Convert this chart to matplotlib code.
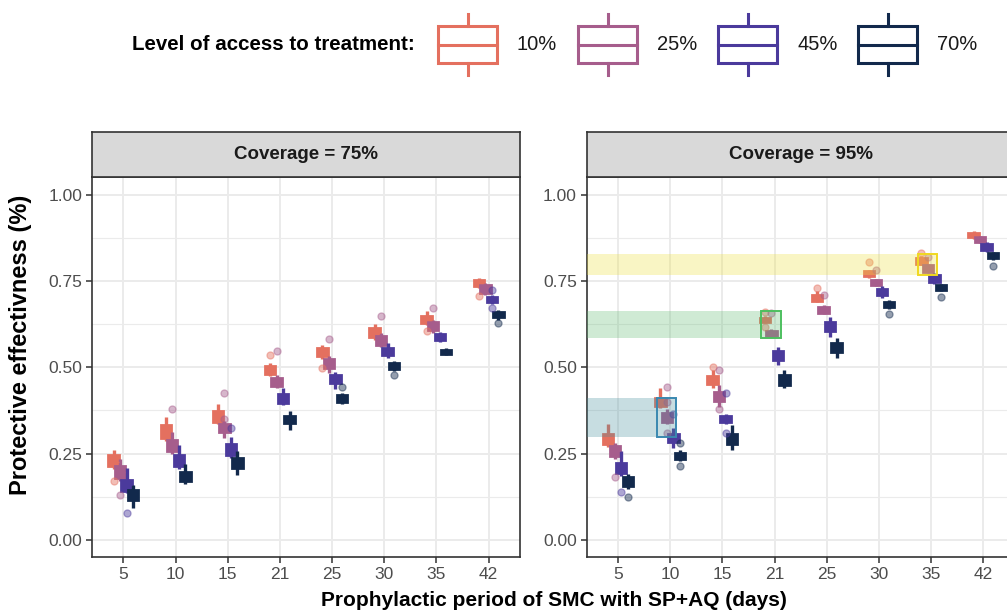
import matplotlib.pyplot as plt
import numpy as np
from matplotlib.patches import Rectangle

plt.rcParams["font.family"] = ["Liberation Sans", "DejaVu Sans"]

PERIODS = ["5", "10", "15", "21", "25", "30", "35", "42"]
LEVELS = ["10%", "25%", "45%", "70%"]
COLORS = ["#E4705F", "#A65D8C", "#4B3A9C", "#12294C"]
PANELS = ["Coverage = 75%", "Coverage = 95%"]

# ── coverage 75% : box stats per access level, one value per period ─────────
Q1_75 = {"10%": [.215, .296, .343, .482, .532, .588, .629, .735],
         "25%": [.180, .258, .312, .446, .498, .565, .607, .715],
         "45%": [.142, .213, .246, .398, .456, .535, .578, .689],
         "70%": [.116, .171, .208, .340, .400, .496, .539, .645]}
MED_75 = {"10%": [.225, .322, .350, .490, .545, .600, .638, .744],
          "25%": [.197, .275, .325, .458, .510, .578, .618, .726],
          "45%": [.158, .230, .262, .410, .466, .545, .587, .697],
          "70%": [.130, .185, .222, .350, .410, .505, .545, .653]}
Q3_75 = {"10%": [.245, .333, .373, .505, .555, .613, .649, .753],
         "25%": [.214, .291, .335, .469, .525, .591, .630, .738],
         "45%": [.173, .245, .277, .423, .479, .555, .596, .704],
         "70%": [.144, .198, .238, .358, .419, .512, .551, .661]}
LO_75 = {"10%": [.205, .288, .335, .475, .525, .580, .622, .730],
         "25%": [.172, .250, .295, .440, .484, .558, .600, .710],
         "45%": [.135, .205, .238, .392, .437, .528, .572, .684],
         "70%": [.093, .163, .189, .319, .393, .490, .535, .638]}
HI_75 = {"10%": [.262, .357, .393, .512, .566, .625, .662, .758],
         "25%": [.235, .313, .345, .478, .532, .598, .638, .745],
         "45%": [.209, .276, .297, .439, .486, .569, .603, .710],
         "70%": [.158, .221, .257, .374, .425, .518, .555, .667]}
# (period index, level index, value)
OUT_75 = [(0, 0, .172), (6, 0, .605), (7, 0, .706), (3, 0, .535), (4, 0, .497),
          (0, 1, .129), (1, 1, .380), (2, 1, .427), (2, 1, .350), (3, 1, .548),
          (4, 1, .582), (5, 1, .648), (6, 1, .673),
          (0, 2, .079), (2, 2, .324), (7, 2, .725), (7, 2, .673),
          (4, 3, .444), (5, 3, .478), (7, 3, .627)]

# ── coverage 95% ─────────────────────────────────────────────────────────────
Q1_95 = {"10%": [.277, .389, .453, .631, .693, .763, .799, .876],
         "25%": [.242, .341, .402, .592, .658, .738, .777, .863],
         "45%": [.193, .283, .341, .520, .604, .708, .748, .840],
         "70%": [.155, .235, .277, .450, .544, .674, .725, .815]}
MED_95 = {"10%": [.290, .400, .464, .638, .700, .772, .808, .883],
          "25%": [.257, .355, .415, .600, .667, .745, .787, .871],
          "45%": [.208, .295, .350, .535, .617, .718, .758, .850],
          "70%": [.168, .245, .290, .465, .557, .682, .732, .823]}
Q3_95 = {"10%": [.307, .411, .474, .644, .709, .779, .817, .890],
         "25%": [.272, .368, .428, .606, .676, .753, .796, .877],
         "45%": [.224, .306, .358, .548, .630, .728, .767, .858],
         "70%": [.183, .253, .306, .479, .570, .690, .738, .831]}
LO_95 = {"10%": [.270, .382, .440, .627, .689, .759, .795, .872],
         "25%": [.235, .335, .385, .588, .654, .734, .773, .859],
         "45%": [.185, .266, .335, .508, .588, .702, .742, .835],
         "70%": [.148, .229, .262, .440, .526, .668, .720, .810]}
HI_95 = {"10%": [.337, .439, .492, .648, .720, .783, .821, .894],
         "25%": [.280, .378, .449, .610, .680, .757, .800, .881],
         "45%": [.257, .324, .365, .560, .646, .734, .773, .864],
         "70%": [.192, .260, .334, .492, .584, .696, .742, .835]}
OUT_95 = [(2, 0, .502), (3, 0, .660), (3, 0, .617), (4, 0, .731), (5, 0, .805),
          (6, 0, .832),
          (0, 1, .183), (1, 1, .444), (1, 1, .401), (1, 1, .311), (2, 1, .492),
          (2, 1, .379), (3, 1, .656), (4, 1, .710), (5, 1, .783), (6, 1, .819),
          (0, 2, .138), (1, 2, .364), (2, 2, .427), (2, 2, .310),
          (0, 3, .124), (1, 3, .280), (1, 3, .215), (5, 3, .653), (6, 3, .704),
          (7, 3, .792)]

# highlighted comparisons in the 95% panel: (period index, y low, y high)
HL_PERIOD = [1, 3, 6]
HL_LOW = [.299, .584, .766]
HL_HIGH = [.411, .664, .829]
HL_FILL = ["#48919E", "#62BC73", "#EEDE3E"]
HL_EDGE = ["#3A88B0", "#4DBF5F", "#F0D820"]

DODGE = [-0.1875, -0.0625, 0.0625, 0.1875]
W, H = 1007, 612


def fig_rect(x0, y0, x1, y1):
    """pixel box (top-left origin) -> figure fraction rect"""
    return [x0 / W, 1 - y1 / H, (x1 - x0) / W, (y1 - y0) / H]


def draw_panel(ax, q1, med, q3, lo, hi, outliers):
    x = np.arange(len(PERIODS))
    for j, (lev, c) in enumerate(zip(LEVELS, COLORS)):
        stats = [dict(med=m, q1=a, q3=b, whislo=l, whishi=h)
                 for a, m, b, l, h in zip(q1[lev], med[lev], q3[lev], lo[lev], hi[lev])]
        ax.bxp(stats, positions=x + DODGE[j], widths=0.2, patch_artist=True,
               showfliers=False, showcaps=False, manage_ticks=False,
               boxprops=dict(facecolor=c, edgecolor=c, lw=2.0),
               whiskerprops=dict(color=c, lw=2.4, solid_capstyle="butt"),
               medianprops=dict(color=c, lw=1.0), zorder=3)
    for p, j, v in outliers:
        ax.scatter(p + DODGE[j], v, s=26, color=COLORS[j], alpha=0.45,
                   edgecolors=COLORS[j], linewidths=0.9, zorder=4)

    ax.set_xlim(-0.6, len(PERIODS) - 0.4)
    ax.set_ylim(-0.05, 1.05)
    ax.set_xticks(x)
    ax.set_xticklabels(PERIODS)
    ax.set_yticks([0, .25, .5, .75, 1])
    ax.set_yticklabels(["0.00", "0.25", "0.50", "0.75", "1.00"])
    ax.set_yticks([.125, .375, .625, .875], minor=True)
    ax.grid(True, which="major", color="#EBEBEB", lw=1.4, zorder=0)
    ax.grid(True, which="minor", axis="y", color="#EBEBEB", lw=0.8, zorder=0)
    ax.set_axisbelow(True)
    ax.tick_params(which="major", length=4, width=1.1, color="#333333",
                   labelcolor="#4D4D4D", labelsize=12.5, pad=3)
    ax.tick_params(which="minor", length=0)
    for s in ax.spines.values():
        s.set_color("#333333")
        s.set_linewidth(1.2)


def draw_strip(rect, label):
    sax = fig.add_axes(rect)
    sax.set_facecolor("#D9D9D9")
    sax.set_xticks([]); sax.set_yticks([])
    for s in sax.spines.values():
        s.set_color("#333333")
        s.set_linewidth(1.2)
    sax.text(0.5, 0.5, label, ha="center", va="center", fontsize=13.5,
             fontweight="bold", color="#1A1A1A", transform=sax.transAxes)


fig = plt.figure(figsize=(W / 100, H / 100), dpi=100)

panel_x = [(92, 520), (586.7, 1014.7)]
data = [(Q1_75, MED_75, Q3_75, LO_75, HI_75, OUT_75),
        (Q1_95, MED_95, Q3_95, LO_95, HI_95, OUT_95)]
axes = []
for (x0, x1), label, d in zip(panel_x, PANELS, data):
    ax = fig.add_axes(fig_rect(x0, 177.3, x1, 557.3))
    draw_panel(ax, *d)
    draw_strip(fig_rect(x0, 132.3, x1, 177.3), label)
    axes.append(ax)

# highlight bands + boxes on the 95% panel
ax = axes[1]
for p, ylo, yhi, fc, ec in zip(HL_PERIOD, HL_LOW, HL_HIGH, HL_FILL, HL_EDGE):
    x_left = p - 0.26
    ax.add_patch(Rectangle((-0.6, ylo), x_left + 0.6, yhi - ylo, facecolor=fc,
                           alpha=0.3, edgecolor="none", zorder=5))
    ax.add_patch(Rectangle((x_left, ylo), 0.38, yhi - ylo, facecolor=fc,
                           alpha=0.3, edgecolor="none", zorder=5))
    ax.add_patch(Rectangle((x_left, ylo), 0.38, yhi - ylo, facecolor="none",
                           edgecolor=ec, lw=1.4, zorder=6))

fig.text(553.5 / W, 1 - 600 / H, "Prophylactic period of SMC with SP+AQ (days)",
         ha="center", va="center", fontsize=15, fontweight="bold")
fig.text(21 / W, 1 - 345 / H, "Protective effectivness (%)", rotation=90,
         ha="center", va="center", fontsize=17, fontweight="bold")

# legend drawn in a pixel-space overlay
lax = fig.add_axes([0, 0, 1, 1], facecolor="none")
lax.set_xlim(0, W); lax.set_ylim(H, 0); lax.axis("off")
lax.text(415, 44, "Level of access to treatment:", ha="right", va="center",
         fontsize=14.8, fontweight="bold")
for i, (lev, c) in enumerate(zip(LEVELS, COLORS)):
    kx = 438 + i * 140
    lax.add_patch(Rectangle((kx, 26), 59, 37, facecolor="white", edgecolor=c, lw=2.2))
    lax.plot([kx, kx + 59], [44.5, 44.5], color=c, lw=2.2)
    lax.plot([kx + 29.5, kx + 29.5], [14, 26], color=c, lw=2.2)
    lax.plot([kx + 29.5, kx + 29.5], [63, 75], color=c, lw=2.2)
    lax.text(kx + 79, 45, lev, ha="left", va="center", fontsize=14.5, color="#1A1A1A")

fig.savefig("out.png", dpi=100)
